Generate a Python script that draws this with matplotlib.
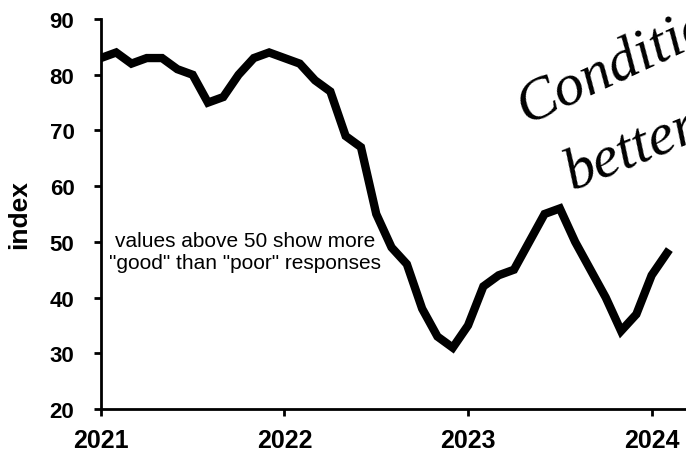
import matplotlib
matplotlib.use("Agg")
import matplotlib.pyplot as plt
import numpy as np

# monthly index values, Jan 2021 .. Feb 2024
months = np.arange(38)
values = [83, 84, 82, 83, 83, 81, 80, 75, 76, 80, 83, 84,
          83, 82, 79, 77, 69, 67, 55, 49, 46, 38, 33, 31,
          35, 42, 44, 45, 50, 55, 56, 50, 45, 40, 34, 37,
          44, 48]
year_ticks = [0, 12, 24, 36]
year_labels = ["2021", "2022", "2023", "2024"]
y_ticks = [20, 30, 40, 50, 60, 70, 80, 90]

plt.rcParams['font.family'] = ['Liberation Sans', 'DejaVu Sans']

fig = plt.figure(figsize=(6.86, 4.56), dpi=100)
ax = fig.add_axes([0.147, 0.101, 0.852, 0.855])

ax.plot(months, values, color="black", lw=6, solid_joinstyle="miter")

ax.set_xlim(0, 38.2)
ax.set_ylim(20, 90)
ax.set_xticks(year_ticks)
ax.set_xticklabels(year_labels)
ax.set_yticks(y_ticks)
for lab in ax.get_xticklabels():
    lab.set_fontweight("bold")
    lab.set_fontsize(18)
for lab in ax.get_yticklabels():
    lab.set_fontweight("bold")
    lab.set_fontsize(16)
ax.tick_params(axis="both", width=2, length=5, direction="out")
ax.tick_params(axis="y", pad=14)
ax.tick_params(axis="x", pad=9)

for s in ["top", "right"]:
    ax.spines[s].set_visible(False)
for s in ["left", "bottom"]:
    ax.spines[s].set_linewidth(2)

ax.set_ylabel("index", fontsize=19, fontweight="bold", labelpad=13)

ax.text(9.4, 48.3, 'values above 50 show more\n"good" than "poor" responses',
        ha="center", va="center", fontsize=15, linespacing=1.2)

# handwritten note, runs off the right edge like in the original
fig.text(0.768, 0.726, "Conditions", fontsize=43, rotation=25,
         family="Liberation Serif", style="italic",
         ha="left", va="baseline", rotation_mode="anchor")
fig.text(0.834, 0.583, "better", fontsize=43, rotation=22,
         family="Liberation Serif", style="italic",
         ha="left", va="baseline", rotation_mode="anchor")

plt.savefig("out.png", dpi=100)
